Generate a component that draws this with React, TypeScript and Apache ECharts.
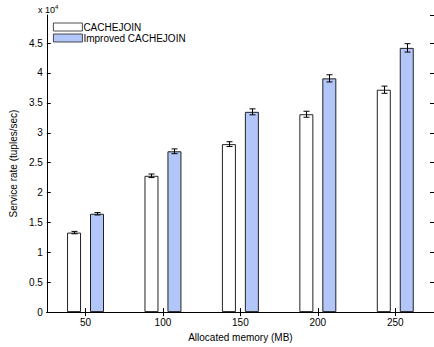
import React, { useEffect, useRef } from "react";
import * as echarts from "echarts";

const categories = ["50", "100", "150", "200", "250"];
const cacheJoin = [13300, 22800, 28100, 33100, 37200];
const cacheJoinErr = [200, 300, 400, 500, 600];
const improved = [16450, 26900, 33500, 39100, 44200];
const improvedErr = [200, 400, 500, 600, 700];
const yTickStep = 5000;
const seriesNames = ["CACHEJOIN", "Improved CACHEJOIN"];

const FONT = "'Liberation Sans', Arial, Helvetica, sans-serif";

function errorSeries(values: number[], errs: number[], offset: number) {
  return {
    type: "custom",
    silent: true,
    z: 5,
    data: values.map((v, i) => [i, v, errs[i]]),
    renderItem: (_params: any, api: any) => {
      const idx = api.value(0);
      const v = api.value(1);
      const e = api.value(2);
      const top = api.coord([idx, v + e]);
      const bot = api.coord([idx, v - e]);
      const x = Math.round(top[0] + offset) + 0.5;
      const cap = 3;
      const st = { stroke: "#000", lineWidth: 1 };
      return {
        type: "group",
        children: [
          { type: "line", shape: { x1: x, y1: top[1], x2: x, y2: bot[1] }, style: st },
          { type: "line", shape: { x1: x - cap, y1: top[1], x2: x + cap, y2: top[1] }, style: st },
          { type: "line", shape: { x1: x - cap, y1: bot[1], x2: x + cap, y2: bot[1] }, style: st },
        ],
      };
    },
  };
}

export default function App() {
  const ref = useRef<HTMLDivElement>(null);
  useEffect(() => {
    document.body.style.margin = "0";
    const chart = echarts.init(ref.current!, undefined, { renderer: "svg" });
    const axisLine = { show: true, lineStyle: { color: "#000", width: 1 } };
    const tick = { show: true, inside: true, length: 4, alignWithLabel: true, lineStyle: { color: "#000" } };
    chart.setOption({
      animation: false,
      textStyle: { fontFamily: FONT },
      grid: { left: 37, top: 15, width: 400, height: 298, containLabel: false },
      legend: {
        orient: "vertical",
        left: 48,
        top: 17,
        itemWidth: 29,
        itemHeight: 8,
        itemGap: 1,
        icon: "rect",
        data: seriesNames,
        itemStyle: { borderWidth: 0.8 },
        textStyle: { fontSize: 10, color: "#000", fontFamily: FONT, lineHeight: 10, padding: [0, 0, 0, -4] },
      },
      xAxis: [
        {
          type: "category",
          data: categories,
          position: "bottom",
          axisLine,
          axisTick: tick,
          axisLabel: { fontSize: 10, color: "#000", margin: 5, fontFamily: FONT },
          name: "Allocated memory (MB)",
          nameLocation: "middle",
          nameGap: 15,
          nameTextStyle: { fontSize: 10, color: "#000", fontFamily: FONT },
          splitLine: { show: false },
        },
        {
          type: "category",
          data: categories,
          position: "top",
          axisLine,
          axisTick: tick,
          axisLabel: { show: false },
          splitLine: { show: false },
        },
      ],
      yAxis: [
        {
          type: "value",
          min: 0,
          max: 49700,
          interval: yTickStep,
          position: "left",
          axisLine,
          axisTick: { show: true, inside: true, length: 4, lineStyle: { color: "#000" } },
          axisLabel: {
            fontSize: 10,
            color: "#000",
            margin: 4,
            fontFamily: FONT,
            showMaxLabel: false,
            formatter: (v: number) => (v % yTickStep === 0 ? String(v / 10000) : ""),
          },
          splitLine: { show: false },
          name: "Service rate (tuples/sec)",
          nameLocation: "middle",
          nameGap: 26,
          nameTextStyle: { fontSize: 10, color: "#000", fontFamily: FONT },
        },
        {
          type: "value",
          min: 0,
          max: 49700,
          interval: yTickStep,
          position: "right",
          axisLine,
          axisTick: { show: true, inside: true, length: 4, lineStyle: { color: "#000" } },
          axisLabel: { show: false },
          splitLine: { show: false },
        },
      ],
      series: [
        {
          name: seriesNames[0],
          type: "bar",
          data: cacheJoin,
          barWidth: 14,
          barGap: "64%",
          itemStyle: { color: "#ffffff", borderColor: "#222", borderWidth: 1 },
        },
        {
          name: seriesNames[1],
          type: "bar",
          data: improved,
          barWidth: 14,
          itemStyle: { color: "#b3c6f9", borderColor: "#222", borderWidth: 1 },
        },
        errorSeries(cacheJoin, cacheJoinErr, -11.5),
        errorSeries(improved, improvedErr, 11.5),
      ],
      graphic: [
        {
          type: "text",
          left: 38,
          top: 4,
          style: {
            text: "x 10{s|4}",
            fontSize: 9,
            fill: "#000",
            fontFamily: FONT,
            rich: { s: { fontSize: 6, verticalAlign: "top", padding: [0, 0, 5, 0], fontFamily: FONT } },
          },
        },
      ],
    });
    return () => chart.dispose();
  }, []);
  return <div ref={ref} style={{ width: 434, height: 347 }} />;
}
